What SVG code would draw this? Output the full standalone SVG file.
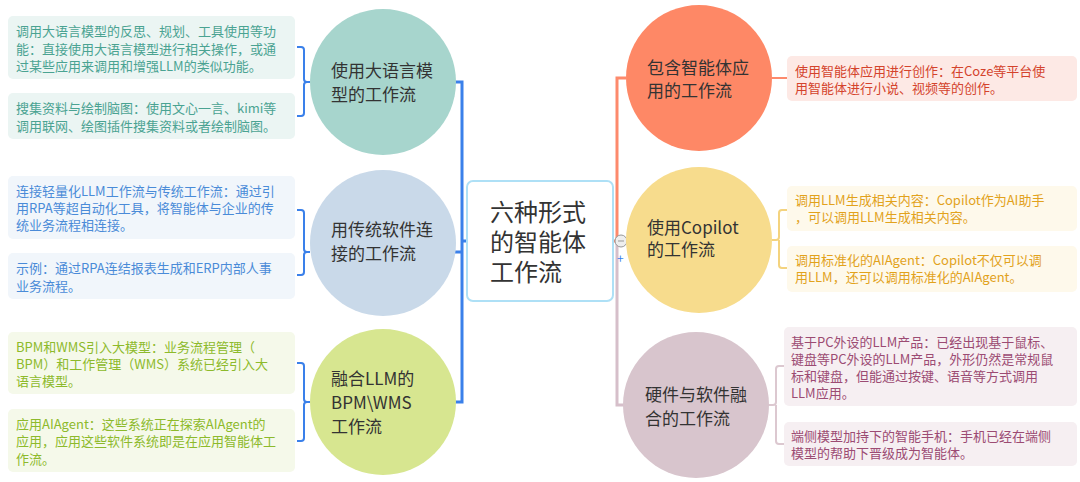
<svg xmlns="http://www.w3.org/2000/svg" width="1080" height="482" viewBox="0 0 1080 482">
<style>
text{font-family:"Noto Sans CJK SC","Liberation Sans",sans-serif}
.d{font-size:13px}
.c{font-size:17px;fill:#333}
.br{fill:none;stroke-width:2}
</style>
<rect width="1080" height="482" fill="#fff"/>
<g id="connectors" fill="none" stroke-width="3">
<path d="M455 82H462V402H455M462 252H455M462 241H467" stroke="#3a80ea"/>
<path class="br" d="M297 47h4a3 3 0 0 1 3 3v29a3 3 0 0 0 3 3h3M310 82h-3a3 3 0 0 0-3 3v28a3 3 0 0 1-3 3h-4" stroke="#3a80ea" stroke-width="2"/>
<path class="br" d="M297 210h4a3 3 0 0 1 3 3v36a3 3 0 0 0 3 3h3M310 252h-3a3 3 0 0 0-3 3v17a3 3 0 0 1-3 3h-4" stroke="#3a80ea" stroke-width="2"/>
<path class="br" d="M297 363h4a3 3 0 0 1 3 3v33a3 3 0 0 0 3 3h3M310 402h-3a3 3 0 0 0-3 3v33a3 3 0 0 1-3 3h-4" stroke="#3a80ea" stroke-width="2"/>
<path d="M613 241H617V78H626" stroke="#fd8a6c"/>
<path d="M617 241V405H624" stroke="#d6bfca"/>
<path d="M772 78H787" stroke="#fd8a6c" stroke-width="2"/>
<path class="br" d="M772 240h4a3 3 0 0 0 3-3v-24a3 3 0 0 1 3-3h5M779 240v25a3 3 0 0 0 3 3h5" stroke="#f4d37e"/>
<path class="br" d="M768 405h5a3 3 0 0 0 3-3v-33a3 3 0 0 1 3-3h5M776 405v36a3 3 0 0 0 3 3h5" stroke="#dcc8d0"/>
</g>
<g id="center">
<rect x="467" y="181" width="146" height="120" rx="6" fill="#fff" stroke="#aee0f6" stroke-width="2"/>
<text font-size="24" fill="#333" x="490"><tspan y="221">六种形式</tspan><tspan x="490" y="251">的智能体</tspan><tspan x="490" y="281">工作流</tspan></text>
<circle cx="621" cy="241" r="6" fill="#eee" stroke="#999"/><path d="M618 241h6" stroke="#999"/>
<text x="617" y="263" font-size="12" fill="#3a80ea">+</text>
</g>
<g id="n1">
<circle cx="383" cy="82" r="73" fill="#a7d5cd"/>
<text class="c" x="331"><tspan y="77">使用大语言模</tspan><tspan x="331" y="101">型的工作流</tspan></text>
</g>
<g id="n2">
<circle cx="383" cy="243" r="73" fill="#c9d9e9"/>
<text class="c" x="331"><tspan y="236">用传统软件连</tspan><tspan x="331" y="260">接的工作流</tspan></text>
</g>
<g id="n3">
<circle cx="383" cy="402" r="73" fill="#d7e690"/>
<text class="c" x="331"><tspan y="385">融合LLM的</tspan><tspan x="331" y="409">BPM\WMS</tspan><tspan x="331" y="433">工作流</tspan></text>
</g>
<g id="n4">
<circle cx="699" cy="78" r="73" fill="#fe8866"/>
<text class="c" x="647"><tspan y="74">包含智能体应</tspan><tspan x="647" y="97">用的工作流</tspan></text>
</g>
<g id="n5">
<circle cx="699" cy="240" r="73" fill="#f7dc8d"/>
<text class="c" x="647"><tspan y="234">使用Copilot</tspan><tspan x="647" y="256">的工作流</tspan></text>
</g>
<g id="n6">
<circle cx="696" cy="405" r="73" fill="#d8c5cd"/>
<text class="c" x="645"><tspan y="401">硬件与软件融</tspan><tspan x="645" y="425">合的工作流</tspan></text>
</g>
<g id="d1"><rect x="8" y="16" width="287" height="63" rx="5" fill="#ebf5f3"/>
<text class="d" fill="#4aa392" x="16"><tspan y="36">调用大语言模型的反思、规划、工具使用等功</tspan><tspan x="16" y="54">能：直接使用大语言模型进行相关操作，或通</tspan><tspan x="16" y="71">过某些应用来调用和增强LLM的类似功能。</tspan></text></g>
<g id="d2"><rect x="8" y="93" width="287" height="46" rx="5" fill="#ebf5f3"/>
<text class="d" fill="#4aa392" x="16"><tspan y="113">搜集资料与绘制脑图：使用文心一言、kimi等</tspan><tspan x="16" y="131">调用联网、绘图插件搜集资料或者绘制脑图。</tspan></text></g>
<g id="d3"><rect x="8" y="176" width="287" height="63" rx="5" fill="#f1f6fb"/>
<text class="d" fill="#4a8bd8" x="16"><tspan y="196">连接轻量化LLM工作流与传统工作流：通过引</tspan><tspan x="16" y="213">用RPA等超自动化工具，将智能体与企业的传</tspan><tspan x="16" y="230">统业务流程相连接。</tspan></text></g>
<g id="d4"><rect x="8" y="253" width="287" height="46" rx="5" fill="#f1f6fb"/>
<text class="d" fill="#4a8bd8" x="16"><tspan y="273">示例：通过RPA连结报表生成和ERP内部人事</tspan><tspan x="16" y="291">业务流程。</tspan></text></g>
<g id="d5"><rect x="8" y="332" width="287" height="62" rx="5" fill="#f5f9ea"/>
<text class="d" fill="#8dba2b" x="16"><tspan y="352">BPM和WMS引入大模型：业务流程管理（</tspan><tspan x="16" y="369">BPM）和工作管理（WMS）系统已经引入大</tspan><tspan x="16" y="386">语言模型。</tspan></text></g>
<g id="d6"><rect x="8" y="409" width="287" height="63" rx="5" fill="#f5f9ea"/>
<text class="d" fill="#8dba2b" x="16"><tspan y="429">应用AIAgent：这些系统正在探索AIAgent的</tspan><tspan x="16" y="446">应用，应用这些软件系统即是在应用智能体工</tspan><tspan x="16" y="464">作流。</tspan></text></g>
<g id="d7"><rect x="787" y="56" width="290" height="45" rx="5" fill="#fde9e5"/>
<text class="d" fill="#d4432c" x="795"><tspan y="76">使用智能体应用进行创作：在Coze等平台使</tspan><tspan x="795" y="93">用智能体进行小说、视频等的创作。</tspan></text></g>
<g id="d8"><rect x="787" y="186" width="290" height="45" rx="5" fill="#fef9eb"/>
<text class="d" fill="#e2a21c" x="795"><tspan y="205">调用LLM生成相关内容：Copilot作为AI助手</tspan><tspan x="795" y="222">，可以调用LLM生成相关内容。</tspan></text></g>
<g id="d9"><rect x="787" y="246" width="290" height="46" rx="5" fill="#fef9eb"/>
<text class="d" fill="#e2a21c" x="795"><tspan y="265">调用标准化的AIAgent：Copilot不仅可以调</tspan><tspan x="795" y="282">用LLM，还可以调用标准化的AIAgent。</tspan></text></g>
<g id="d10"><rect x="784" y="327" width="293" height="79" rx="5" fill="#f6eff2"/>
<text class="d" fill="#9c4b73" x="791"><tspan y="347">基于PC外设的LLM产品：已经出现基于鼠标、</tspan><tspan x="791" y="364">键盘等PC外设的LLM产品，外形仍然是常规鼠</tspan><tspan x="791" y="381">标和键盘，但能通过按键、语音等方式调用</tspan><tspan x="791" y="398">LLM应用。</tspan></text></g>
<g id="d11"><rect x="784" y="422" width="293" height="44" rx="5" fill="#f6eff2"/>
<text class="d" fill="#9c4b73" x="791"><tspan y="441">端侧模型加持下的智能手机：手机已经在端侧</tspan><tspan x="791" y="458">模型的帮助下晋级成为智能体。</tspan></text></g>
</svg>
